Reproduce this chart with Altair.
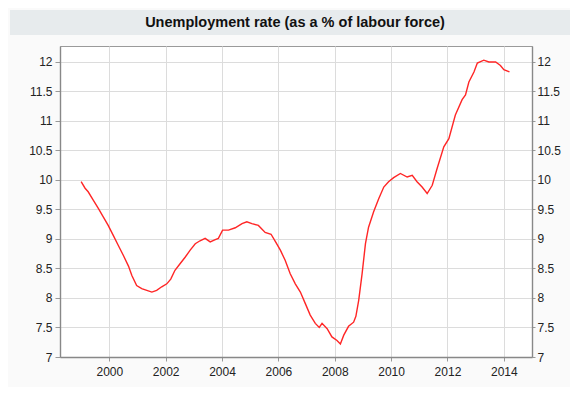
import altair as alt
import pandas as pd

years = [1999.00, 1999.14, 1999.25, 1999.43, 1999.61, 1999.79, 1999.96, 2000.14, 2000.32, 2000.50,
         2000.68, 2000.80, 2000.97, 2001.15, 2001.33, 2001.51, 2001.68, 2001.86, 2002.04, 2002.18,
         2002.33, 2002.51, 2002.69, 2002.87, 2003.05, 2003.22, 2003.40, 2003.58, 2003.76, 2003.87,
         2004.02, 2004.23, 2004.47, 2004.71, 2004.88, 2005.06, 2005.29, 2005.53, 2005.74, 2005.89,
         2006.07, 2006.24, 2006.42, 2006.60, 2006.78, 2006.96, 2007.13, 2007.31, 2007.45, 2007.55,
         2007.73, 2007.90, 2008.08, 2008.20, 2008.32, 2008.49, 2008.67, 2008.75, 2008.85, 2008.97,
         2009.09, 2009.20, 2009.38, 2009.56, 2009.74, 2009.91, 2010.09, 2010.33, 2010.57, 2010.75,
         2010.92, 2011.10, 2011.28, 2011.46, 2011.63, 2011.87, 2012.05, 2012.28, 2012.52, 2012.64,
         2012.76, 2012.94, 2013.06, 2013.29, 2013.47, 2013.71, 2013.88, 2014.00, 2014.20]
rates = [9.97, 9.86, 9.80, 9.66, 9.52, 9.37, 9.23, 9.06, 8.89, 8.72,
         8.54, 8.38, 8.21, 8.16, 8.13, 8.10, 8.13, 8.19, 8.24, 8.32,
         8.47, 8.58, 8.69, 8.81, 8.92, 8.97, 9.01, 8.95, 8.99, 9.01,
         9.15, 9.15, 9.19, 9.26, 9.29, 9.26, 9.23, 9.11, 9.08, 8.96,
         8.81, 8.64, 8.41, 8.24, 8.10, 7.90, 7.71, 7.57, 7.50, 7.57,
         7.48, 7.34, 7.28, 7.22, 7.37, 7.52, 7.59, 7.69, 7.96, 8.41,
         8.92, 9.20, 9.46, 9.68, 9.88, 9.97, 10.04, 10.11, 10.05, 10.08,
         9.97, 9.88, 9.77, 9.91, 10.19, 10.56, 10.70, 11.10, 11.36, 11.44,
         11.66, 11.83, 11.98, 12.03, 12.00, 12.00, 11.94, 11.87, 11.83]

x_ticks = [2000, 2002, 2004, 2006, 2008, 2010, 2012, 2014]
y_ticks = [7, 7.5, 8, 8.5, 9, 9.5, 10, 10.5, 11, 11.5, 12]
title_text = "Unemployment rate (as a % of labour force)"

df = pd.DataFrame({"year": years, "rate": rates})
tdf = pd.DataFrame({"t": [title_text]})

W, H = 472, 311
FONT = "Liberation Sans"
x_scale = alt.Scale(domain=[1998.25, 2015.0], nice=False, zero=False)
y_scale = alt.Scale(domain=[7, 12.27], nice=False, zero=False)
x_axis = alt.Axis(values=x_ticks, format="d", title=None, grid=True, tickSize=4, labelPadding=5)

bar = alt.Chart(tdf).mark_rect(color="#e7ebed").encode(
    x=alt.value(-50), x2=alt.value(W + 40), y=alt.value(-36), y2=alt.value(-11)
)
title = alt.Chart(tdf).mark_text(
    font=FONT, fontSize=14.5, fontWeight="bold", color="#111", baseline="middle", align="center"
).encode(x=alt.value(235), y=alt.value(-23.5), text="t:N")

line = alt.Chart(df).mark_line(color="#ff2626", strokeWidth=1.4, clip=True).encode(
    x=alt.X("year:Q", scale=x_scale, axis=x_axis),
    y=alt.Y("rate:Q", scale=y_scale,
            axis=alt.Axis(values=y_ticks, format="~g", title=None, orient="left", grid=True,
                          tickSize=5, labelPadding=3)),
)
right = alt.Chart(df).mark_line(opacity=0).encode(
    x=alt.X("year:Q", scale=x_scale, axis=x_axis),
    y=alt.Y("rate:Q", scale=y_scale,
            axis=alt.Axis(values=y_ticks, format="~g", title=None, orient="right", grid=False,
                          tickSize=3, labelPadding=2)),
)

chart = alt.layer(bar, title, line, right).resolve_axis(y="independent").properties(
    width=W, height=H,
    padding={"left": 52, "top": 38, "right": 38, "bottom": 30},
    autosize=alt.AutoSizeParams(type="none"),
    background="#fafafa",
).configure_view(stroke="#9a9a9a", fill="white").configure_axis(
    labelFont=FONT, labelFontSize=12, labelColor="#222", domainColor="#888",
    tickColor="#999", gridColor="#dcdcdc", domainWidth=1.4,
)

chart.save("out.html", embed_options={"renderer": "svg", "actions": False})
